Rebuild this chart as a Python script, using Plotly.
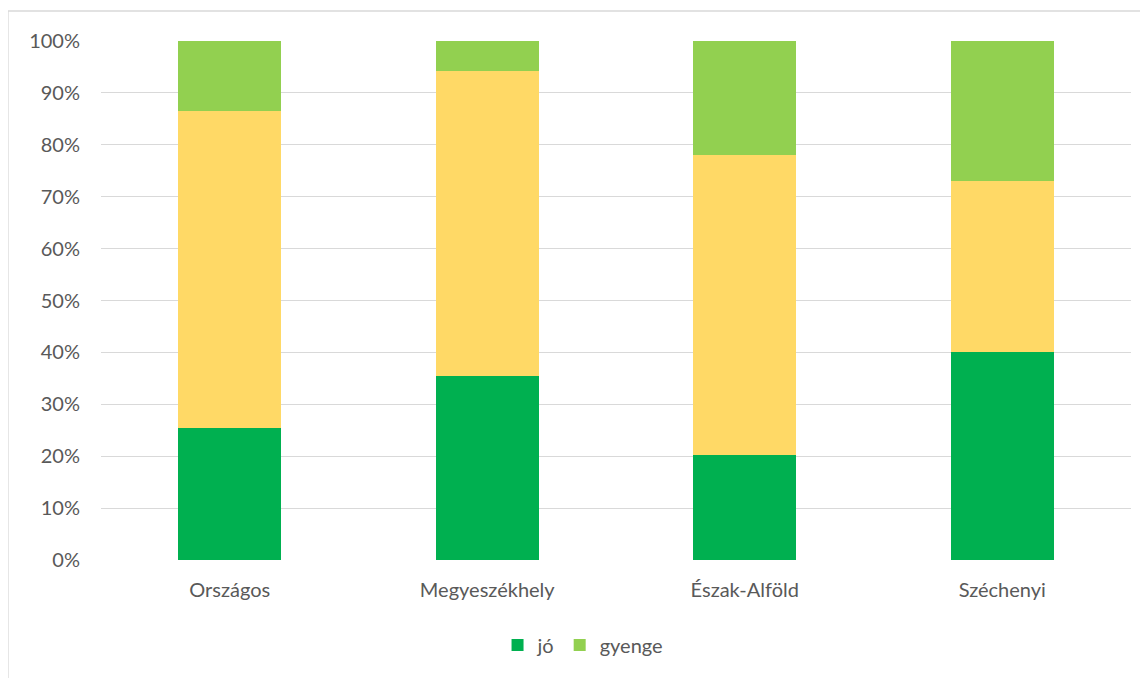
import plotly.graph_objects as go

categories = ["Országos", "Megyeszékhely", "Észak-Alföld", "Széchenyi"]
jo = [25.4, 35.5, 20.2, 40.0]
kozepes = [61.1, 58.7, 57.8, 33.0]
gyenge = [13.5, 5.8, 22.0, 27.0]
tick_vals = [0, 10, 20, 30, 40, 50, 60, 70, 80, 90, 100]
tick_text = [f"{v}%" for v in tick_vals]

font_family = "Lato, 'Open Sans', sans-serif"
gray = "#595959"

fig = go.Figure()
fig.add_trace(go.Bar(x=categories, y=jo, name="jó", marker_color="#00b050", marker_line_width=0))
fig.add_trace(go.Bar(x=categories, y=kozepes, name="közepes", marker_color="#ffd966",
                     marker_line_width=0, showlegend=False))
fig.add_trace(go.Bar(x=categories, y=gyenge, name="gyenge", marker_color="#92d050", marker_line_width=0))

fig.update_layout(
    barmode="stack",
    bargap=0.6,
    width=1148, height=678,
    margin=dict(l=93, r=25, t=33, b=126),
    paper_bgcolor="white", plot_bgcolor="white",
    font=dict(family=font_family, size=20, color=gray),
    legend=dict(orientation="h", x=0.468, xanchor="center", y=-0.164, yanchor="middle",
                font=dict(size=20, color=gray), traceorder="normal", itemwidth=30),
    xaxis=dict(showline=False, ticks="", ticklabelstandoff=16, tickfont=dict(size=20, color=gray)),
    yaxis=dict(range=[0, 100], tickvals=tick_vals, ticktext=tick_text,
               showgrid=True, gridcolor="#d9d9d9", gridwidth=1.3, zeroline=False,
               ticks="", ticklabelstandoff=20, tickfont=dict(size=20, color=gray)),
    shapes=[dict(type="rect", xref="paper", yref="paper",
                 x0=-0.0903, x1=1.2, y0=-0.4, y1=1.0578,
                 line=dict(color="#d9d9d9", width=1.3), fillcolor="rgba(0,0,0,0)", layer="below")],
)

fig.write_html("out.html")
